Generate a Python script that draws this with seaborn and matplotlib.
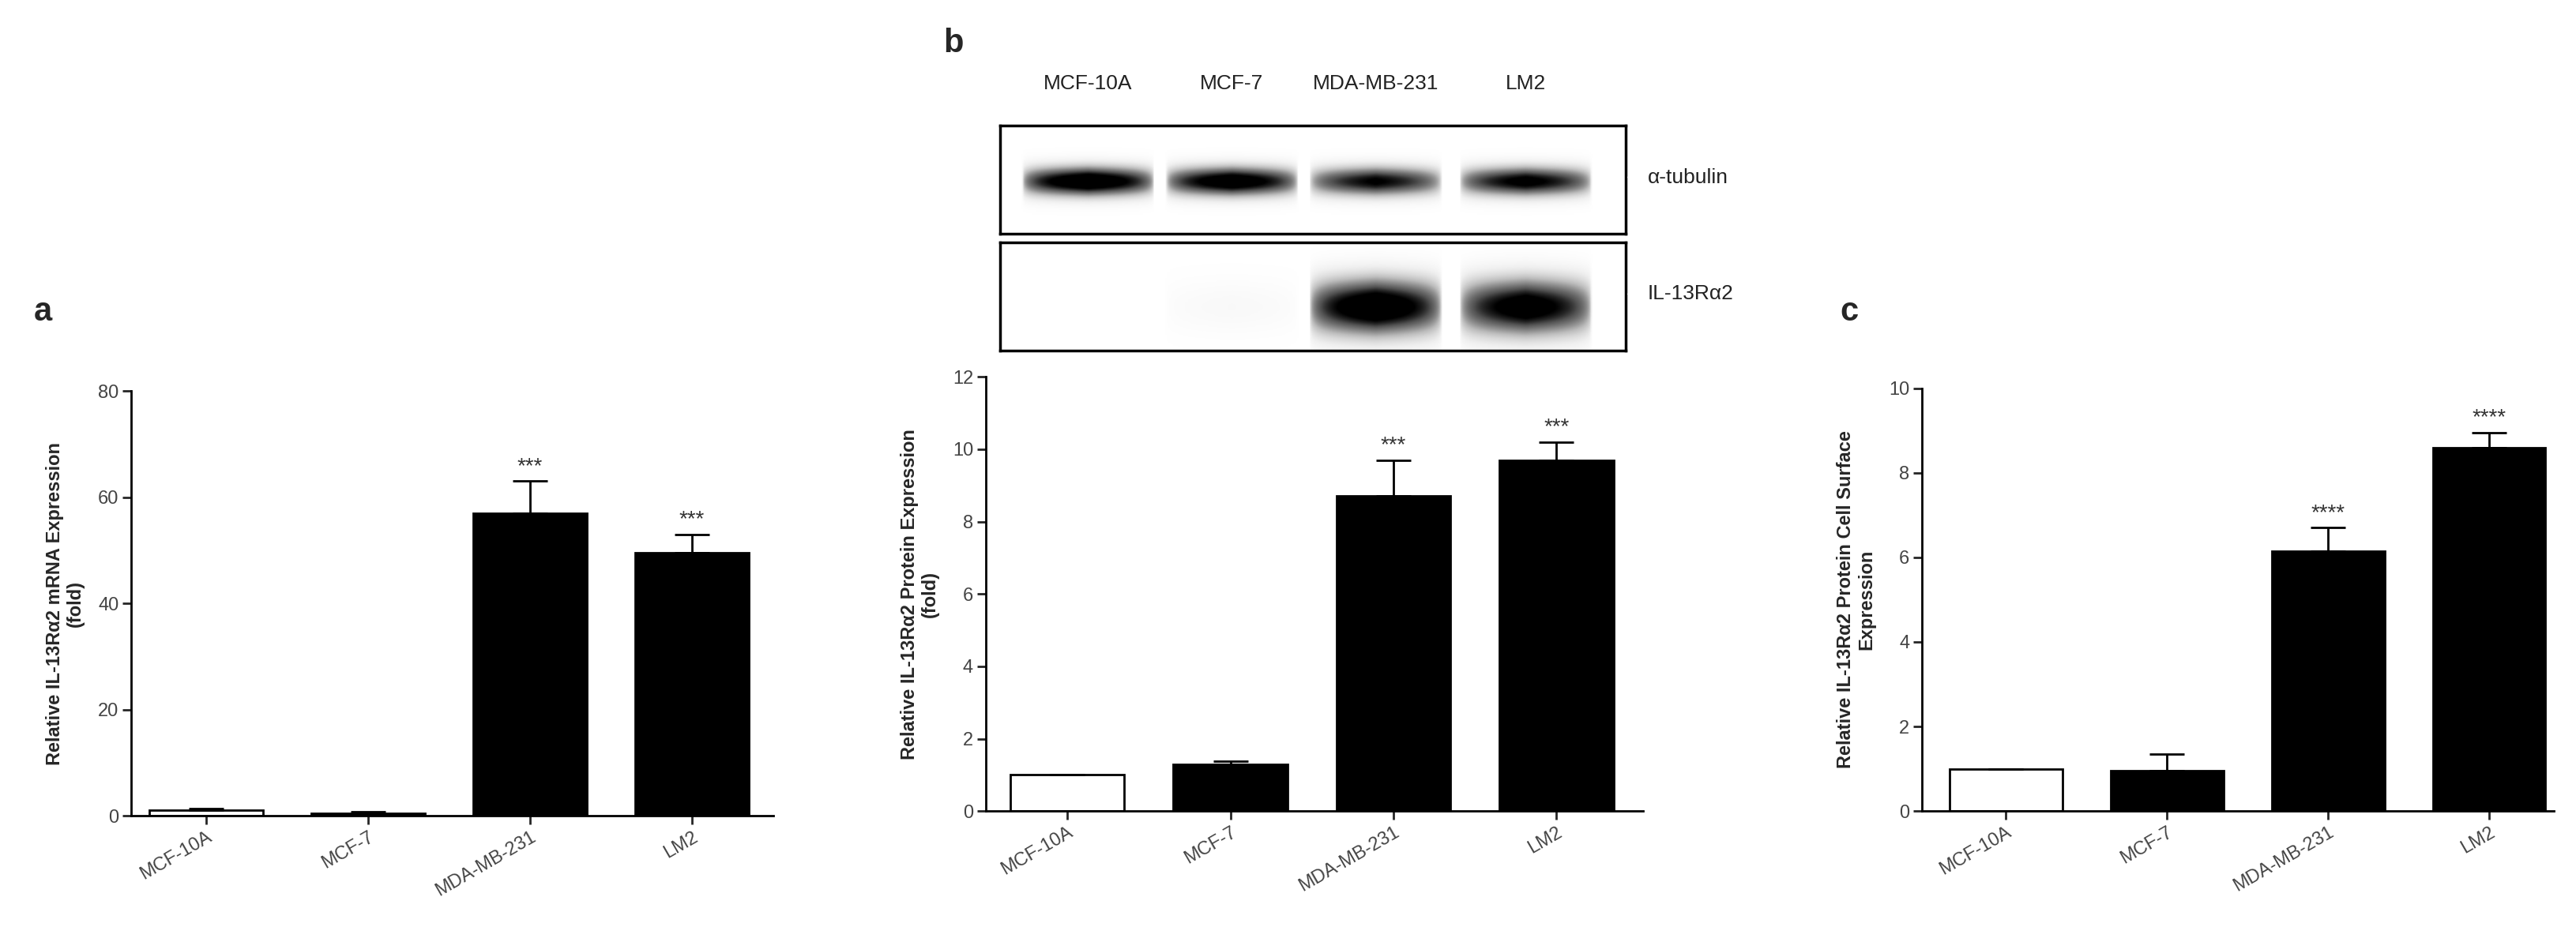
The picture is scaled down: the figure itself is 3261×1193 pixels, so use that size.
import numpy as np
import pandas as pd
import matplotlib
matplotlib.use("Agg")
import matplotlib.pyplot as plt
import seaborn as sns

# data
cells = ["MCF-10A", "MCF-7", "MDA-MB-231", "LM2"]
bar_colors = ["white", "black", "black", "black"]

mrna_mean = [1.0, 0.5, 57.0, 49.5]
mrna_err = [0.3, 0.3, 6.0, 3.5]
mrna_stars = ["", "", "***", "***"]

protein_mean = [1.0, 1.3, 8.7, 9.7]
protein_err = [0.0, 0.08, 1.0, 0.5]
protein_stars = ["", "", "***", "***"]

surface_mean = [1.0, 0.95, 6.15, 8.6]
surface_err = [0.0, 0.4, 0.55, 0.35]
surface_stars = ["", "", "****", "****"]

# western blot band strengths per lane (0 = none, 1 = dark)
tubulin_band = [1.0, 0.95, 0.8, 0.85]
il13_band = [0.0, 0.04, 1.0, 0.92]

sns.set_style("white")
plt.rcParams["font.family"] = ["Liberation Sans", "DejaVu Sans"]

fig = plt.figure(figsize=(32.62, 11.93), dpi=100)


def bar_panel(rect, means, errs, stars, ylim, yticks, ylabel, xlim):
    ax = fig.add_axes(rect)
    df = pd.DataFrame({"cell": cells, "value": means})
    sns.barplot(data=df, x="cell", y="value", hue="cell", palette=bar_colors,
                legend=False, edgecolor="black", linewidth=2, width=0.7, ax=ax)
    ax.errorbar(range(len(cells)), means, yerr=[np.zeros(len(errs)), errs],
                fmt="none", ecolor="black", elinewidth=2, capsize=16, capthick=2)
    for i, s in enumerate(stars):
        if s:
            ax.text(i, means[i] + errs[i] + ylim[1] * 0.01, s, ha="center",
                    va="bottom", fontsize=20, color="#333333")
    ax.set_ylim(*ylim)
    ax.set_xlim(*xlim)
    ax.set_yticks(yticks)
    ax.set_xlabel("")
    ax.set_ylabel(ylabel, fontsize=17, fontweight="bold", labelpad=12)
    ax.set_xticks(range(len(cells)))
    ax.set_xticklabels(cells, rotation=30, ha="right", rotation_mode="anchor",
                       fontsize=17, color="#444444")
    ax.tick_params(axis="y", labelsize=17, labelcolor="#444444", length=8, width=2, left=True)
    ax.tick_params(axis="x", length=8, width=2, bottom=True)
    sns.despine(ax=ax)
    for sp in ("left", "bottom"):
        ax.spines[sp].set_linewidth(2)
        ax.spines[sp].set_color("black")
    return ax


bar_panel([0.051, 0.134, 0.249, 0.451], mrna_mean, mrna_err, mrna_stars,
          (0, 80), [0, 20, 40, 60, 80],
          "Relative IL-13R\u03b12 mRNA Expression\n(fold)", (-0.46, 3.5))
bar_panel([0.3826, 0.139, 0.255, 0.461], protein_mean, protein_err, protein_stars,
          (0, 12), [0, 2, 4, 6, 8, 10, 12],
          "Relative IL-13R\u03b12 Protein Expression\n(fold)", (-0.5, 3.53))
bar_panel([0.746, 0.139, 0.245, 0.449], surface_mean, surface_err, surface_stars,
          (0, 10), [0, 2, 4, 6, 8, 10],
          "Relative IL-13R\u03b12 Protein Cell Surface\nExpression", (-0.52, 3.4))

# western blot strips
lane_x = np.linspace(0, 1, 400)
row_y = np.linspace(0, 1, 100)
lane_centers = [0.14, 0.37, 0.60, 0.84]


def blot(rect, strengths, yc, ysig, label):
    ax = fig.add_axes(rect)
    img = np.zeros((len(row_y), len(lane_x)))
    for c, s in zip(lane_centers, strengths):
        prof_x = np.clip(1.0 - np.abs(lane_x - c) / 0.105, 0, 1) ** 0.3
        prof_y = np.exp(-((row_y - yc) / ysig) ** 2)
        img += s * np.outer(prof_y, prof_x)
    ax.imshow(np.clip(img * 1.3, 0, 1), cmap="Greys", vmin=0, vmax=1,
              aspect="auto", extent=(0, 1, 1, 0), interpolation="bilinear")
    ax.set_xticks([])
    ax.set_yticks([])
    for sp in ax.spines.values():
        sp.set_visible(True)
        sp.set_linewidth(2.5)
        sp.set_color("black")
    ax.annotate("", xy=(1.0, 0.52), xytext=(1.03, 0.52), xycoords="axes fraction",
                arrowprops=dict(arrowstyle="-", lw=1.5))
    ax.text(1.035, 0.52, label, transform=ax.transAxes, va="center", ha="left",
            fontsize=19, color="#222222")
    return ax


top_blot = blot([0.388, 0.752, 0.243, 0.115], tubulin_band, 0.52, 0.13, "\u03b1-tubulin")
blot([0.388, 0.628, 0.243, 0.115], il13_band, 0.6, 0.25, "IL-13R\u03b12")

for c, name in zip(lane_centers, cells):
    top_blot.annotate("", xy=(c, 1.0), xytext=(c, 1.18), xycoords="axes fraction",
                      arrowprops=dict(arrowstyle="-", lw=1.5))
    top_blot.text(c, 1.3, name, transform=top_blot.transAxes, ha="center",
                  va="bottom", fontsize=19, color="#222222")

fig.text(0.013, 0.66, "a", fontsize=30, fontweight="bold")
fig.text(0.366, 0.945, "b", fontsize=30, fontweight="bold")
fig.text(0.714, 0.66, "c", fontsize=30, fontweight="bold")

fig.savefig("out.png", dpi=100, facecolor="white")
